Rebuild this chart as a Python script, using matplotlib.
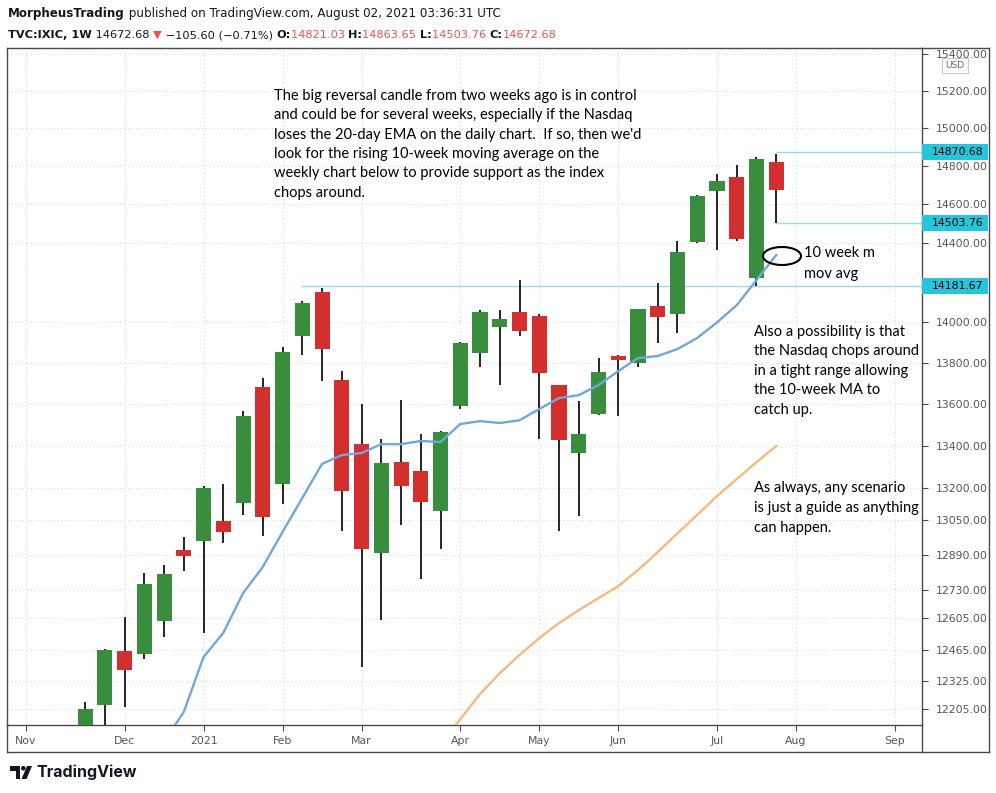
import matplotlib
matplotlib.use("Agg")
import matplotlib.pyplot as plt
import numpy as np
from matplotlib.patches import Rectangle, Ellipse, Polygon, Circle
from matplotlib.lines import Line2D
from matplotlib.ticker import FixedLocator, NullLocator, FixedFormatter

# weekly candles, NASDAQ composite (TVC:IXIC), week of Nov 16 2020 .. Jul 26 2021
opens = [12090, 12222, 12460, 12445, 12592, 12913, 12954, 13046, 13130, 13682,
         13219, 13931, 14150, 13715, 13410, 12899, 13324, 13281, 13093, 13590,
         13849, 13975, 14050, 14030, 13690, 13367, 13552, 13834, 13800, 14080,
         14040, 14405, 14670, 14740, 14220, 14821.03]
highs = [12235, 12470, 12610, 12807, 12844, 12973, 13209, 13219, 13567, 13727,
         13878, 14105, 14170, 13760, 13600, 13433, 13620, 13457, 13471, 13903,
         14060, 14060, 14210, 14040, 13690, 13615, 13824, 13839, 14065, 14195,
         14410, 14650, 14757, 14805, 14847, 14863.65]
lows = [12000, 12100, 12214, 12425, 12520, 12817, 12538, 12945, 13074, 12980,
        13125, 13839, 13710, 13000, 12390, 12596, 13031, 12780, 12918, 13576,
        13780, 13690, 13935, 13433, 13000, 13069, 13547, 13543, 13780, 13898,
        13945, 14400, 14365, 14410, 14181.67, 14503.76]
closes = [12205, 12465, 12377, 12757, 12802, 12885, 13200, 12995, 13543, 13064,
          13854, 14095, 13869, 13186, 12918, 13319, 13209, 13135, 13466, 13898,
          14050, 14015, 13955, 13750, 13428, 13457, 13755, 13815, 14065, 14025,
          14354, 14640, 14718, 14420, 14837, 14672.68]

# 10-week moving average, starting at candle 4
ma10_start = 4
ma10 = [12065, 12192, 12432, 12539, 12717, 12836, 12996, 13154, 13314, 13356,
        13366, 13408, 13408, 13423, 13418, 13504, 13518, 13509, 13522, 13576,
        13629, 13643, 13692, 13760, 13824, 13834, 13868, 13923, 14000, 14086,
        14212, 14339]
# 40-week moving average, starting at candle 18
ma40_start = 18
ma40 = [12058, 12161, 12270, 12361, 12441, 12516, 12583, 12641, 12695, 12749,
        12822, 12904, 12991, 13075, 13163, 13243, 13323, 13399]

month_labels = ["Nov", "Dec", "2021", "Feb", "Mar", "Apr", "May", "Jun", "Jul", "Aug", "Sep"]
month_pos = [-3, 2, 6, 10, 14, 19, 23, 27, 32, 36, 41]

price_ticks = [12205, 12325, 12465, 12605, 12730, 12890, 13050, 13200, 13400, 13600,
               13800, 14000, 14400, 14600, 14800, 15000, 15200, 15400]

level_lines = [(11, 14181.67), (35, 14870.68), (35, 14503.76)]

note_main = ["The big reversal candle from two weeks ago is in control",
             "and could be for several weeks, especially if the Nasdaq",
             "loses the 20-day EMA on the daily chart.  If so, then we'd",
             "look for the rising 10-week moving average on the",
             "weekly chart below to provide support as the index",
             "chops around."]
note_range = ["Also a possibility is that", "the Nasdaq chops around",
              "in a tight range allowing", "the 10-week MA to", "catch up."]
note_guide = ["As always, any scenario", "is just a guide as anything", "can happen."]
note_ma = ["10 week m", "mov avg"]

GREEN = "#388e3c"
RED = "#d32f2f"
GRAY = "#4a4a4a"
CYAN = "#26c6da"
NOTE_FONT = ["Lato", "DejaVu Sans"]
UI_FONT = ["DejaVu Sans"]

W, H = 996, 793
fig = plt.figure(figsize=(W / 100, H / 100), dpi=100)
fig.patch.set_facecolor("white")

L, R, T, B = 7, 922, 48, 725
ax = fig.add_axes([L / W, 1 - B / H, (R - L) / W, (B - T) / H])
ax.set_yscale("log")
ax.set_xlim(-3.95, 42.38)
ax.set_ylim(12136, 15432)

# candles
idx = np.arange(len(opens))
o = np.array(opens); c = np.array(closes)
colors = [GREEN if cc >= oo else RED for oo, cc in zip(o, c)]
ax.vlines(idx, lows, highs, color="black", lw=1.2, zorder=3)
ax.bar(idx, np.abs(c - o), bottom=np.minimum(o, c), width=0.76,
       color=colors, edgecolor="none", zorder=4)

ax.plot(np.arange(ma10_start, ma10_start + len(ma10)), ma10, color="#6fa8dc",
        lw=1.7, zorder=5, solid_joinstyle="round")
ax.plot(np.arange(ma40_start, ma40_start + len(ma40)), ma40, color="#f9b97a",
        lw=1.7, zorder=5, solid_joinstyle="round")

for start, lvl in level_lines:
    ax.plot([start, 42.38], [lvl, lvl], color="#8fdfea", lw=1.0, zorder=2)

# axes styling
ax.yaxis.tick_right()
ax.yaxis.set_major_locator(FixedLocator(price_ticks))
ax.yaxis.set_major_formatter(FixedFormatter([f"{p:.2f}" for p in price_ticks]))
ax.yaxis.set_minor_locator(NullLocator())
ax.set_xticks(month_pos, month_labels)
ax.tick_params(axis="y", direction="out", length=4, width=0.8, color=GRAY,
               pad=6, labelsize=7.8, labelcolor="#555555")
ax.tick_params(axis="x", direction="out", length=4, width=0.8, color=GRAY,
               pad=4, labelsize=7.8, labelcolor="#555555")
ax.grid(True, ls=(0, (1, 2.5)), color="#d9d9d9", lw=0.8, zorder=0)
for s in ax.spines.values():
    s.set_color(GRAY)
    s.set_linewidth(1.0)

# overlay in pixel coordinates for chrome and notes
ov = fig.add_axes([0, 0, 1, 1], zorder=5)
ov.set_xlim(0, W)
ov.set_ylim(H, 0)
ov.axis("off")
ov.patch.set_alpha(0)

for x0, y0, x1, y1 in [(L, B, L, 752), (L, 752, 989, 752), (989, T, 989, 752),
                       (R, T, 989, T), (R, B, R, 752)]:
    ov.add_line(Line2D([x0, x1], [y0, y1], color=GRAY, lw=1.0))

# price badges
for _, lvl in level_lines:
    yp = H - ax.transData.transform((0, lvl))[1]
    ov.add_patch(Rectangle((R, yp - 8), 66, 16, facecolor=CYAN, edgecolor="none"))
    ov.text(R + 10, yp, f"{lvl:.2f}", fontsize=7.8, color="black", va="center", ha="left")

ov.add_patch(Rectangle((942, 58), 26, 15, facecolor="white", edgecolor="#c8c8c8", lw=0.8))
ov.text(955, 65.5, "USD", fontsize=6.5, color="#666666", ha="center", va="center")

# notes
for i, line in enumerate(note_main):
    ov.text(274, 96 + i * 19.3, line, fontsize=10.5, family=NOTE_FONT, va="center", color="black")
for i, line in enumerate(note_range):
    ov.text(754, 332 + i * 19.5, line, fontsize=10.5, family=NOTE_FONT, va="center", color="black")
for i, line in enumerate(note_guide):
    ov.text(754, 488 + i * 20, line, fontsize=10.5, family=NOTE_FONT, va="center", color="black")
for i, line in enumerate(note_ma):
    ov.text(804, 253 + i * 21, line, fontsize=10.5, family=NOTE_FONT, va="center", color="black")
ov.add_patch(Ellipse((782, 256), 38, 18, facecolor="none", edgecolor="black", lw=1.5))

# header
rend = fig.canvas.get_renderer()


def run(x, y, pieces, size):
    for s, col, wt in pieces:
        t = ov.text(x, y, s, fontsize=size, family=UI_FONT, color=col, fontweight=wt,
                    va="center", ha="left")
        x += t.get_window_extent(renderer=rend).width


HRED = "#ef5350"
run(8, 14, [("MorpheusTrading", "#131722", "bold"),
            (" published on TradingView.com, August 02, 2021 03:36:31 UTC", "#131722", "normal")], 8.6)
run(8, 35, [("TVC:IXIC, 1W", "#131722", "bold"), (" 14672.68 ", "#131722", "normal"),
            ("\u25BC", HRED, "normal"), (" \u2212105.60 (\u22120.71%) ", "#131722", "normal"),
            ("O:", "#131722", "bold"), ("14821.03 ", HRED, "normal"),
            ("H:", "#131722", "bold"), ("14863.65 ", HRED, "normal"),
            ("L:", "#131722", "bold"), ("14503.76 ", HRED, "normal"),
            ("C:", "#131722", "bold"), ("14672.68", HRED, "normal")], 8.2)

# TradingView logo
ov.add_patch(Polygon([(10, 766), (20, 766), (20, 779), (15.5, 779), (15.5, 770.5), (10, 770.5)],
                     closed=True, facecolor="#131722", edgecolor="none"))
ov.add_patch(Circle((23.3, 768.3), 2.3, facecolor="#131722", edgecolor="none"))
ov.add_patch(Polygon([(27, 766), (32, 766), (26.5, 779), (21.5, 779)],
                     closed=True, facecolor="#131722", edgecolor="none"))
ov.text(36, 772.5, "TradingView", fontsize=11.5, family=["Inter", "DejaVu Sans"],
        fontweight="bold", color="#131722", va="center", ha="left")

fig.savefig("out.png", dpi=100)
